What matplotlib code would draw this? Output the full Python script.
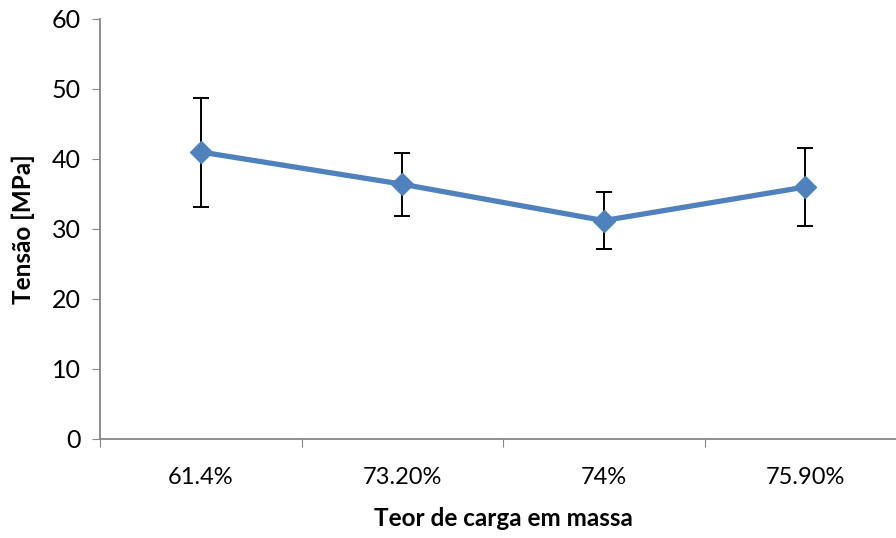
import matplotlib.pyplot as plt

# data
categories = ['61.4%', '73.20%', '74%', '75.90%']
tensao = [41.0, 36.4, 31.2, 36.0]
erro_sup = [7.7, 4.4, 4.15, 5.6]
erro_inf = [7.9, 4.5, 4.1, 5.6]

plt.rcParams['font.family'] = ['Lato', 'DejaVu Sans']

fig = plt.figure(figsize=(8.96, 5.38), dpi=100)
ax = fig.add_axes([100 / 896, 99 / 538, 806 / 896, 420 / 538])

x = list(range(len(categories)))

# error bars first, then line and diamonds on top
ax.errorbar(x, tensao, yerr=[erro_inf, erro_sup], fmt='none', ecolor='black',
            elinewidth=1.4, capsize=6, capthick=1.4, zorder=2)
ax.plot(x, tensao, color='#4F81BD', linewidth=3.8, marker='D', markersize=11,
        markeredgecolor='#4F81BD', zorder=3)

ax.set_xlim(-0.5, len(categories) - 0.5)
ax.set_ylim(0, 60)
ax.set_yticks(range(0, 61, 10))
ax.set_xticks([i - 0.5 for i in range(len(categories) + 1)], minor=False)
ax.set_xticklabels([])
ax.set_xticks(x, minor=True)
ax.set_xticklabels(categories, minor=True)

ax.tick_params(axis='x', which='major', length=6, color='#868686', direction='out')
ax.tick_params(axis='x', which='minor', length=0, labelsize=17, pad=20)
ax.tick_params(axis='y', length=6, color='#868686', labelsize=18, pad=8)

for side in ['top', 'right']:
    ax.spines[side].set_visible(False)
for side in ['left', 'bottom']:
    ax.spines[side].set_color('#868686')
    ax.spines[side].set_linewidth(1.3)

ax.set_xlabel('Teor de carga em massa', fontsize=17.5, fontweight='bold', labelpad=14)
ax.set_ylabel('Tensão [MPa]', fontsize=17.5, fontweight='bold', labelpad=12)

fig.savefig('out.png', dpi=100)
